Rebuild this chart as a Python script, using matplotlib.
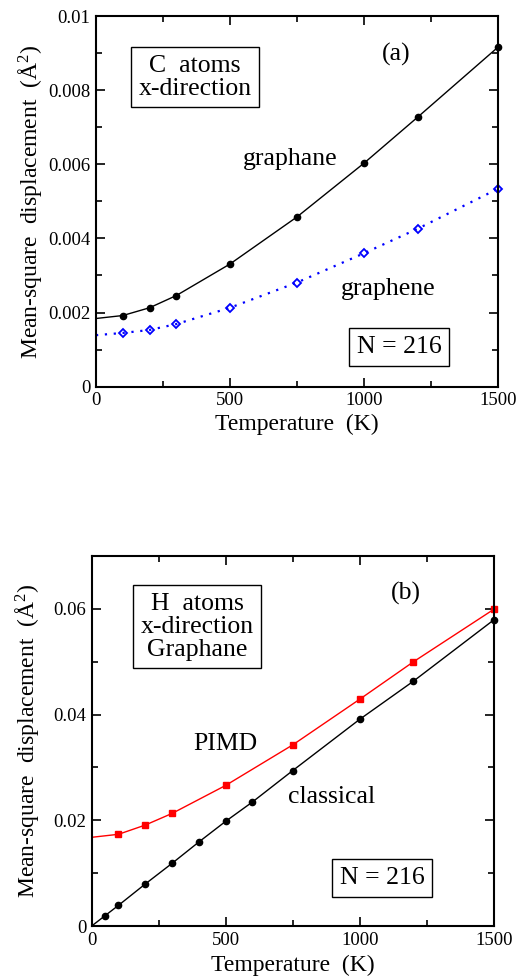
import matplotlib
matplotlib.use("Agg")
import matplotlib.pyplot as plt
from matplotlib.ticker import MultipleLocator, FuncFormatter

# --- data ---
# (a) C atoms, x-direction
t_a = [100, 200, 300, 500, 750, 1000, 1200, 1500]
graphane = [0.00192, 0.00213, 0.00246, 0.00331, 0.00458, 0.00603, 0.00727, 0.00916]
graphene = [0.00145, 0.00153, 0.00169, 0.00213, 0.00281, 0.00360, 0.00426, 0.00534]
# fitted curves start at T = 0
t_fit_a = [0] + t_a
graphane_fit = [0.00184] + graphane
graphene_fit = [0.00139] + graphene

# (b) H atoms, x-direction, graphane
t_cl = [50, 100, 200, 300, 400, 500, 600, 750, 1000, 1200, 1500]
classical = [0.00196, 0.00391, 0.00795, 0.01186, 0.0159, 0.01981, 0.02347,
             0.0294, 0.0391, 0.0463, 0.0579]
t_pimd = [100, 200, 300, 500, 750, 1000, 1200, 1500]
pimd = [0.01735, 0.0191, 0.0213, 0.0266, 0.03426, 0.0429, 0.04997, 0.0599]
t_fit_cl = [0] + t_cl
classical_fit = [0.0] + classical
t_fit_pimd = [0] + t_pimd
pimd_fit = [0.01678] + pimd

plt.rcParams["font.family"] = ["Liberation Serif", "DejaVu Serif"]
plt.rcParams["mathtext.fontset"] = "custom"
plt.rcParams["mathtext.rm"] = "Liberation Serif"
plt.rcParams["mathtext.it"] = "Liberation Serif:italic"

fig = plt.figure(figsize=(5.3, 9.77), dpi=100)
ax1 = fig.add_axes([0.1811, 0.6042, 0.7585, 0.3794])
ax2 = fig.add_axes([0.1730, 0.0522, 0.7585, 0.3787])

fmt = FuncFormatter(lambda v, p: "{:g}".format(round(v, 6)))


def style(ax, ymajor, yminor, xpad, ypad):
    ax.set_xlim(0, 1500)
    ax.xaxis.set_major_locator(MultipleLocator(500))
    ax.xaxis.set_minor_locator(MultipleLocator(250))
    ax.yaxis.set_major_locator(MultipleLocator(ymajor))
    ax.yaxis.set_minor_locator(MultipleLocator(yminor))
    ax.yaxis.set_major_formatter(fmt)
    ax.tick_params(which="both", direction="in", top=True, right=True,
                   labelsize=13.5, width=1.2, pad=4)
    ax.tick_params(which="major", length=6.5)
    ax.tick_params(which="minor", length=4)
    for s in ax.spines.values():
        s.set_linewidth(1.5)
    ax.set_xlabel("Temperature  (K)", fontsize=17, labelpad=xpad)
    ax.set_ylabel(r"Mean-square  displacement  ($\mathrm{\AA}^2$)", fontsize=17,
                  labelpad=ypad)


box = dict(boxstyle="square,pad=0.3", fc="white", ec="black", lw=1.0)
TXT = 18.5

# ─── (a) ───
ax1.plot(t_fit_a, graphane_fit, color="black", lw=1.0)
ax1.plot(t_a, graphane, "o", color="black", ms=4.5, clip_on=False)
ax1.plot(t_fit_a, graphene_fit, color="blue", lw=1.6, linestyle=(0, (1, 3)))
ax1.plot(t_a, graphene, "D", mfc="none", mec="blue", mew=1.3, ms=4.5, clip_on=False)
ax1.set_ylim(0, 0.01)
style(ax1, 0.002, 0.001, 3.5, 3)
ax1.text(0.246, 0.835, "C  atoms\nx-direction", transform=ax1.transAxes,
         fontsize=TXT, ha="center", va="center", linespacing=1.05, bbox=box)
ax1.text(0.746, 0.895, "(a)", transform=ax1.transAxes, fontsize=TXT,
         ha="center", va="center")
ax1.text(0.483, 0.614, "graphane", transform=ax1.transAxes, fontsize=TXT,
         ha="center", va="center")
ax1.text(0.727, 0.263, "graphene", transform=ax1.transAxes, fontsize=TXT,
         ha="center", va="center")
ax1.text(0.754, 0.107, "N = 216", transform=ax1.transAxes, fontsize=TXT,
         ha="center", va="center", bbox=box)

# ─── (b) ───
ax2.plot(t_fit_pimd, pimd_fit, color="red", lw=1.0)
ax2.plot(t_pimd, pimd, "s", color="red", ms=4.5, clip_on=False)
ax2.plot(t_fit_cl, classical_fit, color="black", lw=1.0)
ax2.plot(t_cl, classical, "o", color="black", ms=4.5, clip_on=False)
ax2.set_ylim(0, 0.07)
style(ax2, 0.02, 0.01, 4.5, 9)
ax2.text(0.262, 0.809, "H  atoms\nx-direction\nGraphane", transform=ax2.transAxes,
         fontsize=TXT, ha="center", va="center", linespacing=1.05, bbox=box)
ax2.text(0.781, 0.899, "(b)", transform=ax2.transAxes, fontsize=TXT,
         ha="center", va="center")
ax2.text(0.332, 0.492, "PIMD", transform=ax2.transAxes, fontsize=TXT,
         ha="center", va="center")
ax2.text(0.596, 0.348, "classical", transform=ax2.transAxes, fontsize=TXT,
         ha="center", va="center")
ax2.text(0.722, 0.13, "N = 216", transform=ax2.transAxes, fontsize=TXT,
         ha="center", va="center", bbox=box)

fig.savefig("out.png", dpi=100)
